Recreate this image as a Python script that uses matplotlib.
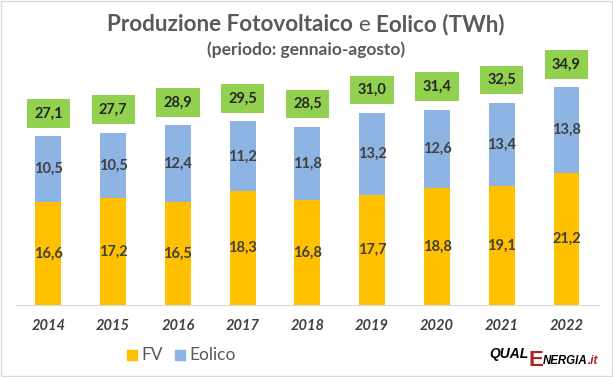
import matplotlib.pyplot as plt
from matplotlib.patches import Rectangle

# dati (TWh, gennaio-agosto)
anni = ['2014', '2015', '2016', '2017', '2018', '2019', '2020', '2021', '2022']
fv = [16.6, 17.2, 16.5, 18.3, 16.8, 17.7, 18.8, 19.1, 21.2]
eolico = [10.5, 10.5, 12.4, 11.2, 11.8, 13.2, 12.6, 13.4, 13.8]
totale = [27.1, 27.7, 28.9, 29.5, 28.5, 31.0, 31.4, 32.5, 34.9]

c_fv = '#FFC000'
c_eol = '#8EB4E3'
c_tot = '#92D050'
grigio = '#595959'
testo = '#404040'

plt.rcParams['font.family'] = ['Lato', 'DejaVu Sans']

W, H = 613, 377
fig = plt.figure(figsize=(6.13, 3.77), dpi=100)
ax = fig.add_axes([0.026, 0.191, 0.951, 0.66])

x = range(len(anni))
ax.bar(x, fv, width=0.4, color=c_fv)
ax.bar(x, eolico, width=0.4, bottom=fv, color=c_eol)

def fmt(v):
    return f'{v:.1f}'.replace('.', ',')

for i in x:
    ax.text(i, fv[i] / 2, fmt(fv[i]), ha='center', va='center',
            fontsize=10.5, fontweight='bold', color=testo)
    ax.text(i, fv[i] + eolico[i] / 2, fmt(eolico[i]), ha='center', va='center',
            fontsize=10.5, fontweight='bold', color=testo)
    ax.annotate(fmt(totale[i]), (i, fv[i] + eolico[i]), xytext=(0, 16.5),
                textcoords='offset points', ha='center', va='center',
                fontsize=10.5, fontweight='bold', color='#262626',
                bbox=dict(boxstyle='square,pad=0.5', fc=c_tot, ec='none'))

ax.set_xlim(-0.5, 8.5)
ax.set_ylim(0, 40)
ax.set_xticks(list(x))
ax.set_xticklabels(anni, fontsize=10.5, fontstyle='italic', fontweight='bold', color=testo)
ax.tick_params(axis='x', length=0, pad=10)
ax.set_yticks([])
for s in ['top', 'right', 'left']:
    ax.spines[s].set_visible(False)
ax.spines['bottom'].set_color('#D9D9D9')

r = fig.canvas.get_renderer()

def riga(pezzi, centro=None, x0=None):
    # pezzi: (testo, y linea di base in px, kwargs) messi uno dopo l'altro
    objs = [fig.text(0, 1 - y / H, s, va='baseline', **kw) for s, y, kw in pezzi]
    larg = [o.get_window_extent(r).width for o in objs]
    if x0 is None:
        x0 = centro - sum(larg) / 2
    for o, w in zip(objs, larg):
        o.set_x(x0 / W)
        x0 += w
    return objs

# titolo
tb = dict(fontsize=16.2, fontweight='bold', color=grigio)
riga([('Produzione Fotovoltaico ', 31, tb),
      ('e ', 31, dict(fontsize=16.2, color=grigio)),
      ('Eolico (TWh)', 31, tb)], centro=306)
fig.text(0.5, 1 - 50 / H, '(periodo: gennaio-agosto)', ha='center', va='center',
         fontsize=12.5, fontweight='bold', color=grigio)

# legenda
fig.patches.append(Rectangle((127 / W, 1 - 360 / H), 10 / W, 10 / H,
                             transform=fig.transFigure, color=c_fv))
fig.text(141 / W, 1 - 355 / H, 'FV', ha='left', va='center', fontsize=12.5, color=grigio)
fig.patches.append(Rectangle((175 / W, 1 - 360 / H), 10 / W, 10 / H,
                             transform=fig.transFigure, color=c_eol))
fig.text(189 / W, 1 - 355 / H, 'Eolico', ha='left', va='center', fontsize=12.5, color=grigio)

# logo
lib = dict(family='Liberation Sans', fontweight='bold')
riga([('QUAL', 358, dict(fontsize=10, fontstyle='italic', color='black', **lib)),
      ('E', 366, dict(fontsize=16, color='#B22222', **lib)),
      ('NERGIA', 364, dict(fontsize=8.3, fontstyle='italic', color='black', **lib)),
      ('.it', 364, dict(fontsize=8.5, fontstyle='italic', color='#B22222', **lib))],
     x0=489)

# bordo
fig.patches.append(Rectangle((0.002, 0.003), 0.996, 0.994, transform=fig.transFigure,
                             fill=False, ec='#D9D9D9', lw=1))

fig.savefig('out.png', dpi=100)
